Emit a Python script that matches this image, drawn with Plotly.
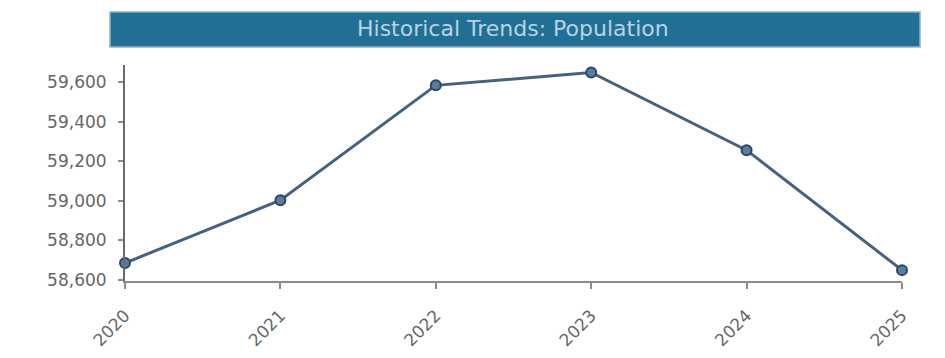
import plotly.graph_objects as go

years = [2020, 2021, 2022, 2023, 2024, 2025]
population = [58686, 59004, 59585, 59650, 59257, 58650]
y_ticks = [58600, 58800, 59000, 59200, 59400, 59600]
title_text = "Historical Trends: Population"

W, H = 945, 358
L, R, T, B = 125, 43, 65, 77
pw, ph = W - L - R, H - T - B

def px_x(x):
    return (x - L) / pw

def px_y(y):
    return (H - B - y) / ph

fig = go.Figure()
fig.add_trace(go.Scatter(
    x=years, y=population, mode="lines+markers",
    line=dict(color="#46617f", width=3),
    marker=dict(size=10, color="#5a7c9e", line=dict(color="#2c4763", width=2)),
    cliponaxis=False, showlegend=False,
))

fig.add_shape(type="rect", xref="paper", yref="paper",
              x0=px_x(110), x1=px_x(920), y0=px_y(47), y1=px_y(12),
              fillcolor="#216f95", line=dict(color="#8fb3c6", width=1.5), layer="below")
fig.add_annotation(xref="paper", yref="paper", x=px_x(513), y=px_y(28.5),
                   text=title_text, showarrow=False,
                   font=dict(family="DejaVu Sans", size=22, color="#b6d4e3"),
                   xanchor="center", yanchor="middle")

fig.update_layout(
    width=W, height=H,
    margin=dict(l=L, r=R, t=T, b=B, autoexpand=False),
    paper_bgcolor="white", plot_bgcolor="white",
    font=dict(family="DejaVu Sans", size=16, color="#666666"),
)
fig.update_xaxes(
    range=[2020, 2025], tickvals=years, ticktext=[str(y) for y in years],
    tickangle=-45, showgrid=False, zeroline=False, automargin=False,
    showline=True, linecolor="#8a8a8a", linewidth=2,
    ticks="outside", ticklen=6, tickcolor="#8a8a8a", tickwidth=1.5,
    ticklabelstandoff=10,
    tickfont=dict(family="DejaVu Sans", size=17, color="#666666"),
)
fig.update_yaxes(
    range=[58595, 59688], tickvals=y_ticks, tickformat=",",
    showgrid=False, zeroline=False, automargin=False,
    showline=True, linecolor="#6a6a6a", linewidth=2,
    ticks="outside", ticklen=5, tickcolor="#8a8a8a", tickwidth=1.5,
    ticklabelstandoff=8,
    tickfont=dict(family="DejaVu Sans", size=17, color="#666666"),
)

fig.write_html("out.html")
